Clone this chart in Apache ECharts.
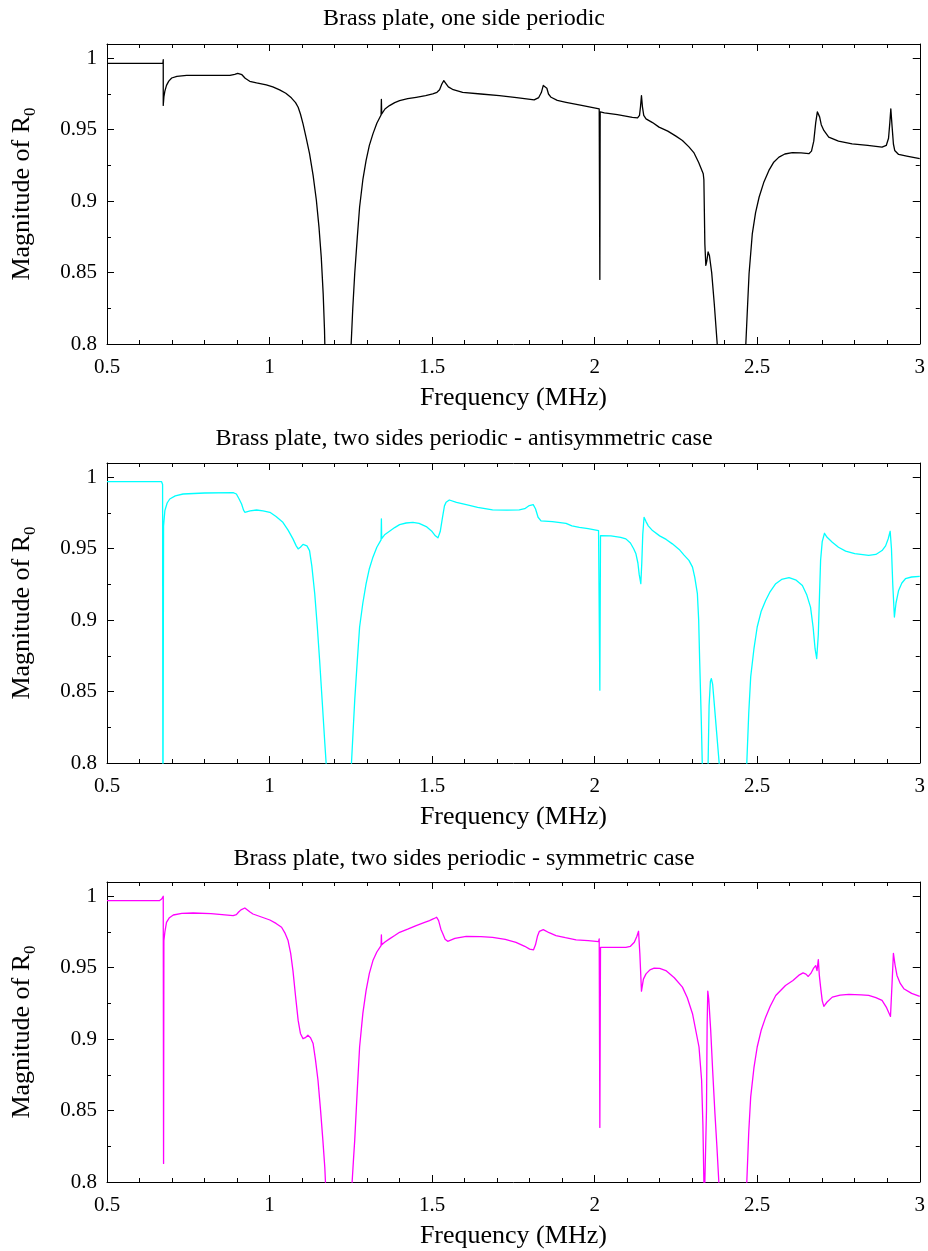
<!DOCTYPE html>
<html>
<head>
<meta charset="utf-8">
<script src="https://cdn.jsdelivr.net/npm/echarts@6/dist/echarts.min.js"></script>
<style>
html,body{margin:0;padding:0;background:#fff;}
#chart{width:928px;height:1251px;}
</style>
</head>
<body>
<div id="chart"></div>
<script>
// ---------- data ----------
const panelTitles = [
  'Brass plate, one side periodic',
  'Brass plate, two sides periodic - antisymmetric case',
  'Brass plate, two sides periodic - symmetric case'
];
const xTicks = [0.5, 1, 1.5, 2, 2.5, 3];
const yTicks = [0.8, 0.85, 0.9, 0.95, 1];

// [frequency (MHz), |R0|]  — one side periodic (black)
const oneSide = [
  [0.5,0.9964],[0.672,0.9964],[0.673,0.999],[0.673,0.967],[0.675,0.973],[0.678,0.977],[0.683,0.981],[0.69,0.984],[0.699,0.9862],
  [0.715,0.9874],[0.745,0.988],[0.878,0.988],[0.893,0.9888],[0.902,0.9895],[0.908,0.9897],[0.915,0.9885],[0.925,0.986],[0.939,0.9839],
  [0.96,0.9828],[0.99,0.9814],[1.01,0.98],[1.031,0.9779],[1.05,0.9755],[1.067,0.9723],[1.08,0.969],[1.088,0.9657],[1.095,0.961],
  [1.103,0.9541],[1.113,0.944],[1.123,0.9332],[1.134,0.918],[1.144,0.9006],[1.152,0.882],[1.159,0.861],[1.165,0.835],[1.169,0.81],[1.171,0.79],[1.172,0.78],
  [1.249,0.78],[1.251,0.8],[1.256,0.825],[1.262,0.8494],[1.27,0.875],[1.277,0.8959],[1.287,0.915],[1.297,0.9285],[1.307,0.939],[1.318,0.9471],
  [1.33,0.9545],[1.343,0.9603],[1.344,0.9713],[1.345,0.961],[1.355,0.9645],[1.369,0.9669],[1.385,0.969],[1.4,0.9704],[1.425,0.9717],[1.451,0.9727],
  [1.48,0.9739],[1.502,0.9751],[1.515,0.9762],[1.523,0.978],[1.53,0.982],[1.536,0.9844],[1.542,0.9825],[1.55,0.98],[1.565,0.978],[1.594,0.9762],
  [1.65,0.975],[1.707,0.9739],[1.76,0.9725],[1.814,0.9709],[1.828,0.9725],[1.836,0.976],[1.842,0.981],[1.848,0.9821],[1.853,0.979],[1.858,0.975],
  [1.866,0.9727],[1.885,0.9705],[1.912,0.9692],[1.96,0.967],[2.014,0.9646],[2.016,0.8452],[2.017,0.9625],[2.03,0.9618],[2.07,0.9605],[2.116,0.9587],
  [2.132,0.9583],[2.138,0.96],[2.141,0.966],[2.144,0.9739],[2.147,0.966],[2.151,0.96],[2.158,0.9576],[2.178,0.955],[2.198,0.9518],[2.225,0.949],
  [2.25,0.9455],[2.27,0.9425],[2.29,0.938],[2.305,0.934],[2.32,0.927],[2.334,0.9192],[2.336,0.915],[2.339,0.87],[2.342,0.855],[2.345,0.858],
  [2.349,0.8645],[2.353,0.862],[2.36,0.85],[2.368,0.828],[2.377,0.8],[2.379,0.78],
  [2.463,0.78],[2.465,0.8],[2.47,0.825],[2.475,0.8494],[2.485,0.8773],[2.495,0.892],[2.506,0.9029],[2.52,0.913],[2.536,0.9215],[2.55,0.927],
  [2.567,0.9308],[2.585,0.933],[2.608,0.9339],[2.635,0.9338],[2.659,0.9332],[2.667,0.935],[2.674,0.942],[2.68,0.955],[2.685,0.9625],[2.688,0.9639],
  [2.692,0.959],[2.697,0.9535],[2.705,0.9495],[2.72,0.9448],[2.75,0.942],[2.792,0.9401],[2.84,0.939],[2.884,0.9378],[2.897,0.939],[2.904,0.944],
  [2.908,0.955],[2.911,0.9646],[2.915,0.952],[2.919,0.94],[2.923,0.9355],[2.935,0.9327],[2.96,0.9315],[3.0,0.9297]
];

// two sides periodic, antisymmetric case (cyan)
const antisymmetric = [
  [0.5,0.9969],[0.668,0.9969],[0.671,0.995],[0.672,0.75],[0.674,0.966],[0.678,0.9767],[0.685,0.982],[0.693,0.9848],[0.71,0.987],[0.734,0.9883],
  [0.8,0.989],[0.888,0.9892],[0.898,0.9883],[0.906,0.985],[0.914,0.9813],[0.92,0.977],[0.924,0.9755],[0.93,0.9758],[0.94,0.9765],[0.96,0.9771],
  [0.98,0.9765],[1.001,0.9755],[1.02,0.9725],[1.041,0.9685],[1.057,0.963],[1.072,0.9569],[1.082,0.952],[1.088,0.9499],[1.095,0.951],[1.103,0.953],
  [1.108,0.9534],[1.115,0.952],[1.123,0.9487],[1.13,0.938],[1.139,0.9185],[1.147,0.895],[1.154,0.8719],[1.162,0.843],[1.17,0.8138],[1.174,0.8],[1.176,0.78],
  [1.25,0.78],[1.252,0.8],[1.257,0.822],[1.262,0.844],[1.27,0.872],[1.277,0.8952],[1.287,0.912],[1.297,0.9255],[1.307,0.936],[1.318,0.9441],
  [1.33,0.951],[1.343,0.9562],[1.344,0.9709],[1.345,0.957],[1.355,0.96],[1.369,0.9622],[1.385,0.9648],[1.4,0.9669],[1.42,0.968],[1.441,0.9685],
  [1.46,0.9677],[1.482,0.9655],[1.5,0.962],[1.51,0.959],[1.518,0.9576],[1.525,0.962],[1.532,0.972],[1.538,0.98],[1.543,0.9825],[1.553,0.9841],
  [1.575,0.9825],[1.605,0.9809],[1.64,0.979],[1.686,0.9772],[1.73,0.977],[1.768,0.9772],[1.785,0.978],[1.799,0.9802],[1.811,0.9809],[1.818,0.978],
  [1.826,0.972],[1.835,0.9695],[1.84,0.9692],[1.87,0.969],[1.912,0.9678],[1.93,0.966],[1.953,0.965],[1.98,0.964],[2.012,0.9627],[2.016,0.851],
  [2.018,0.9592],[2.05,0.959],[2.08,0.958],[2.096,0.9569],[2.11,0.954],[2.12,0.95],[2.127,0.9464],[2.133,0.94],[2.137,0.932],[2.142,0.9255],
  [2.145,0.94],[2.148,0.96],[2.152,0.972],[2.158,0.969],[2.165,0.966],[2.178,0.9627],[2.2,0.959],[2.22,0.9565],[2.239,0.9534],[2.26,0.9495],
  [2.275,0.9455],[2.29,0.9418],[2.301,0.9371],[2.308,0.93],[2.316,0.9185],[2.32,0.9],[2.323,0.8719],[2.328,0.83],[2.331,0.8],[2.333,0.78],
  [2.346,0.78],[2.349,0.8],[2.352,0.84],[2.356,0.857],[2.359,0.8591],[2.363,0.855],[2.367,0.844],[2.375,0.822],[2.383,0.8],[2.385,0.78],
  [2.466,0.78],[2.468,0.8],[2.474,0.835],[2.48,0.8603],[2.49,0.88],[2.5,0.8952],[2.512,0.906],[2.526,0.9138],[2.54,0.92],[2.557,0.9255],
  [2.575,0.9285],[2.598,0.9297],[2.62,0.928],[2.639,0.9243],[2.652,0.918],[2.664,0.9091],[2.672,0.895],[2.678,0.88],[2.683,0.8731],[2.688,0.89],
  [2.692,0.92],[2.695,0.9418],[2.7,0.955],[2.707,0.9608],[2.715,0.958],[2.731,0.9545],[2.75,0.951],[2.772,0.9483],[2.8,0.9465],[2.843,0.9453],
  [2.865,0.946],[2.884,0.9487],[2.895,0.952],[2.903,0.957],[2.909,0.9622],[2.913,0.95],[2.917,0.925],[2.922,0.9022],[2.927,0.912],[2.935,0.9208],
  [2.945,0.926],[2.956,0.929],[2.975,0.9302],[3.0,0.9306]
];

// two sides periodic, symmetric case (magenta)
const symmetric = [
  [0.5,0.9969],[0.661,0.9969],[0.668,0.9981],[0.672,0.9995],[0.673,1.0],[0.674,0.813],[0.675,0.969],[0.678,0.975],[0.683,0.9818],[0.692,0.985],
  [0.704,0.9869],[0.73,0.988],[0.765,0.9883],[0.82,0.9878],[0.888,0.9865],[0.898,0.9872],[0.905,0.989],[0.912,0.9905],[0.918,0.9915],[0.924,0.9918],
  [0.93,0.9908],[0.94,0.989],[0.949,0.9876],[0.975,0.9855],[1.001,0.9834],[1.02,0.981],[1.037,0.9783],[1.048,0.974],[1.057,0.969],[1.065,0.96],
  [1.072,0.948],[1.08,0.93],[1.088,0.9131],[1.095,0.904],[1.103,0.9003],[1.11,0.901],[1.118,0.9027],[1.126,0.901],[1.134,0.8969],[1.141,0.886],
  [1.149,0.8712],[1.157,0.85],[1.164,0.8293],[1.17,0.81],[1.172,0.8],[1.174,0.78],
  [1.252,0.78],[1.254,0.8],[1.258,0.815],[1.262,0.8293],[1.27,0.865],[1.277,0.8945],[1.287,0.918],[1.297,0.9341],[1.307,0.946],[1.318,0.955],
  [1.33,0.961],[1.343,0.9655],[1.344,0.973],[1.345,0.966],[1.355,0.968],[1.369,0.9702],[1.385,0.9725],[1.4,0.9748],[1.425,0.977],[1.451,0.9795],
  [1.475,0.9815],[1.492,0.983],[1.505,0.9843],[1.514,0.9853],[1.52,0.983],[1.527,0.977],[1.533,0.9737],[1.54,0.97],[1.548,0.9685],[1.57,0.9705],
  [1.605,0.972],[1.65,0.9718],[1.686,0.9713],[1.725,0.9698],[1.758,0.9678],[1.785,0.965],[1.8,0.963],[1.812,0.9625],[1.818,0.966],[1.824,0.972],
  [1.83,0.9755],[1.842,0.9767],[1.86,0.9745],[1.881,0.9725],[1.91,0.971],[1.943,0.9695],[1.98,0.969],[2.012,0.9683],[2.014,0.9702],[2.016,0.8382],
  [2.018,0.9643],[2.096,0.9643],[2.11,0.965],[2.122,0.9678],[2.13,0.972],[2.135,0.9755],[2.139,0.96],[2.144,0.9336],[2.15,0.942],[2.158,0.9457],
  [2.17,0.9485],[2.183,0.9497],[2.2,0.9495],[2.219,0.948],[2.245,0.943],[2.27,0.9364],[2.285,0.929],[2.301,0.9178],[2.312,0.905],[2.321,0.8945],
  [2.326,0.88],[2.329,0.8712],[2.333,0.84],[2.336,0.8],[2.337,0.78],
  [2.342,0.78],[2.344,0.85],[2.346,0.91],[2.348,0.9336],[2.351,0.928],[2.357,0.9061],[2.363,0.878],[2.37,0.848],[2.376,0.825],[2.382,0.8],[2.384,0.78],
  [2.466,0.78],[2.468,0.8],[2.474,0.835],[2.48,0.8596],[2.49,0.88],[2.5,0.8945],[2.512,0.906],[2.526,0.9154],[2.54,0.923],[2.557,0.9306],
  [2.572,0.934],[2.587,0.9376],[2.61,0.941],[2.63,0.945],[2.641,0.9464],[2.65,0.9455],[2.657,0.9439],[2.665,0.946],[2.673,0.9495],[2.68,0.9515],
  [2.684,0.948],[2.688,0.9557],[2.691,0.945],[2.695,0.9364],[2.7,0.927],[2.705,0.9229],[2.715,0.926],[2.731,0.9294],[2.755,0.9308],[2.782,0.9313],
  [2.82,0.931],[2.843,0.9306],[2.865,0.929],[2.884,0.9271],[2.898,0.922],[2.91,0.9159],[2.915,0.94],[2.919,0.9601],[2.924,0.952],[2.93,0.9446],
  [2.94,0.939],[2.951,0.9353],[2.975,0.932],[3.0,0.9299]
];

const seriesColors = ['#000000', '#00ffff', '#ff00ff'];
const seriesData = [oneSide, antisymmetric, symmetric];

// ---------- layout ----------
const FONT = '"Liberation Serif", "Times New Roman", serif';
const gridTops = [44, 463, 882];
const gridH = 300;
const titleTops = [2, 422, 842];

const grids = [], xAxes = [], yAxes = [], series = [], titles = [];
const lineBlack = { show: true, lineStyle: { color: '#000', width: 1 } };

gridTops.forEach((top, g) => {
  grids.push({ left: 107, right: 7, top: top, height: gridH, containLabel: false });
  titles.push({
    text: panelTitles[g], left: 'center', top: titleTops[g],
    textStyle: { fontFamily: FONT, fontSize: 24, fontWeight: 'normal', color: '#000' }
  });
  const xCommon = {
    type: 'value', gridIndex: g, min: 0.5, max: 3, interval: 0.5,
    axisLine: lineBlack, splitLine: { show: false },
    axisTick: { show: true, inside: true, length: 7, lineStyle: { color: '#000', width: 1 } },
    minorTick: { show: true, splitNumber: 5, length: 4, lineStyle: { color: '#000', width: 1 } }
  };
  xAxes.push(Object.assign({}, xCommon, {
    position: 'bottom',
    name: 'Frequency (MHz)', nameLocation: 'middle', nameGap: 41,
    nameTextStyle: { fontFamily: FONT, fontSize: 26, color: '#000' },
    axisLabel: { show: true, margin: 13, fontFamily: FONT, fontSize: 21, color: '#000',
      formatter: v => xTicks.some(t => Math.abs(t - v) < 1e-9) ? String(v) : '' }
  }));
  xAxes.push(Object.assign({}, xCommon, { position: 'top', axisLabel: { show: false } }));

  const yMajor = {
    type: 'value', gridIndex: g, min: 0.8, max: 1.01, interval: 0.05,
    splitLine: { show: false },
    axisTick: { show: true, inside: true, length: 7, lineStyle: { color: '#000', width: 1 } }
  };
  const yMinor = {
    type: 'value', gridIndex: g, min: 0.8, max: 1.01, interval: 0.025,
    splitLine: { show: false }, axisLine: { show: false }, axisLabel: { show: false },
    axisTick: { show: true, inside: true, length: 4, lineStyle: { color: '#000', width: 1 } }
  };
  yAxes.push(Object.assign({}, yMajor, {
    position: 'left', axisLine: lineBlack,
    name: '{m|Magnitude of R}{s|0}', nameLocation: 'middle', nameGap: 68,
    nameTextStyle: {
      fontFamily: FONT, fontSize: 26, color: '#000',
      rich: {
        m: { fontFamily: FONT, fontSize: 26, color: '#000', lineHeight: 30, verticalAlign: 'top' },
        s: { fontFamily: FONT, fontSize: 17, color: '#000', lineHeight: 30, verticalAlign: 'bottom' }
      }
    },
    axisLabel: { show: true, margin: 10, fontFamily: FONT, fontSize: 21, color: '#000',
      formatter: v => yTicks.some(t => Math.abs(t - v) < 1e-9) ? String(+v.toFixed(3)) : '' }
  }));
  yAxes.push(Object.assign({}, yMinor, { position: 'left' }));
  yAxes.push(Object.assign({}, yMajor, { position: 'right', axisLine: lineBlack, axisLabel: { show: false } }));
  yAxes.push(Object.assign({}, yMinor, { position: 'right' }));

  series.push({
    type: 'line', xAxisIndex: g * 2, yAxisIndex: g * 4,
    data: seriesData[g],
    showSymbol: false, symbol: 'none', clip: true,
    lineStyle: { color: seriesColors[g], width: 1.3, join: 'round' },
    itemStyle: { color: seriesColors[g] }
  });
});

const chart = echarts.init(document.getElementById('chart'), null, { renderer: 'canvas' });
chart.setOption({
  animation: false,
  backgroundColor: '#fff',
  title: titles,
  grid: grids,
  xAxis: xAxes,
  yAxis: yAxes,
  series: series
});
</script>
</body>
</html>
